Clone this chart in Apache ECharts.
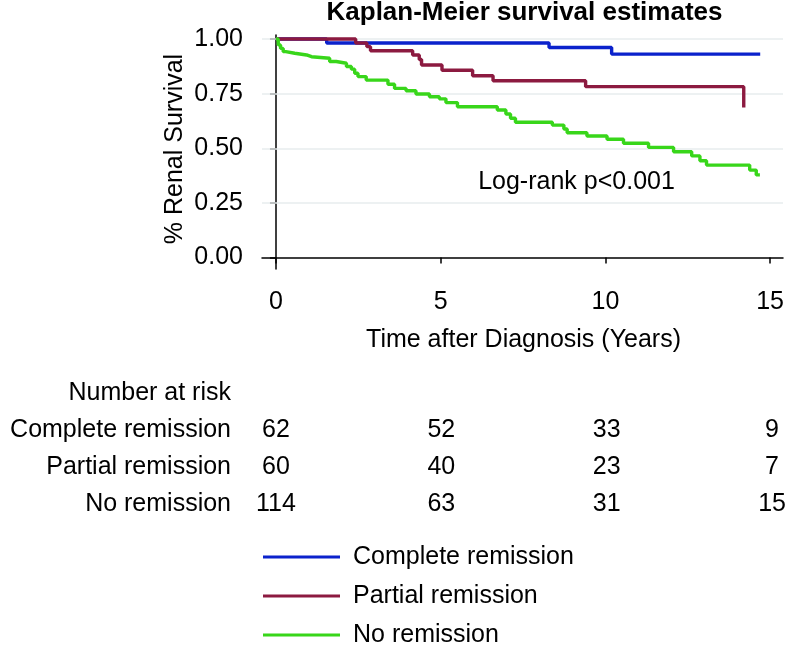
<!DOCTYPE html>
<html><head><meta charset="utf-8">
<script src="https://cdn.jsdelivr.net/npm/echarts@6/dist/echarts.min.js"></script>
<style>html,body{margin:0;padding:0;background:#fff}#c{width:787px;height:650px}</style>
</head><body><div id="c"></div>
<script>
// ---- data ----
const seriesNames = ['Complete remission', 'Partial remission', 'No remission'];
const completeCurve = [[0,1],[1.54,0.982],[8.29,0.961],[10.19,0.931],[14.7,0.931]];
const partialCurve = [[0,1],[2.42,0.982],[2.76,0.965],[2.87,0.946],[4.15,0.927],[4.35,0.906],[4.42,0.881],[5.04,0.857],[5.97,0.832],[6.59,0.809],[9.4,0.782],[14.2,0.687]];
const noneCurve = [[0,1],[0.07,0.973],[0.14,0.957],[0.22,0.942],[0.3,0.935],[0.57,0.927],[0.93,0.919],[1.08,0.912],[1.63,0.897],[1.83,0.889],[2.14,0.874],[2.29,0.862],[2.39,0.843],[2.49,0.828],[2.74,0.812],[3.40,0.793],[3.60,0.774],[3.95,0.763],[4.25,0.748],[4.66,0.736],[4.96,0.726],[5.16,0.709],[5.51,0.690],[6.72,0.675],[6.98,0.657],[7.12,0.637],[7.27,0.619],[8.39,0.606],[8.74,0.588],[8.84,0.571],[9.44,0.556],[10.05,0.541],[10.55,0.523],[11.31,0.504],[12.07,0.484],[12.62,0.465],[12.87,0.443],[13.07,0.423],[14.38,0.400],[14.58,0.378],[14.69,0.378]];
const xTicks = [0, 5, 10, 15];
const yTicks = [0, 0.25, 0.5, 0.75, 1];
const gridValues = [0.25, 0.5, 0.75, 1];
const riskTimes = [0, 5, 10, 15];
const riskHeader = 'Number at risk';
const riskComplete = [62, 52, 33, 9];
const riskPartial = [60, 40, 23, 7];
const riskNone = [114, 63, 31, 15];
const titleText = 'Kaplan-Meier survival estimates';
const xName = 'Time after Diagnosis (Years)';
const yName = '% Renal Survival';
const noteText = 'Log-rank p<0.001';

// ---- styling ----
const FONT = "'Liberation Sans', Helvetica, Arial, sans-serif";
const FS = 25;
const colors = ['#0b22cc', '#8c1a40', '#38d61a'];
const curves = [completeCurve, partialCurve, noneCurve];
const risks = [riskComplete, riskPartial, riskNone];
const rows = [riskHeader].concat(seriesNames);

const riskData = [];
seriesNames.forEach((n, i) => riskTimes.forEach((t, j) => riskData.push([t, n, risks[i][j]])));

const X_MIN = -0.4233, X_MAX = 15.392;
const chart = echarts.init(document.getElementById('c'), null, {renderer: 'canvas'});
function txt(text, x, y, font, rot) {
  const g = {type: 'text', x: x, y: y, z: 10,
    style: {text: text, font: font, fill: '#000', textAlign: 'center', textVerticalAlign: 'middle', align: 'center', verticalAlign: 'middle'}};
  if (rot) g.rotation = rot;
  return g;
}
const option = {
  animation: false,
  backgroundColor: '#fff',
  textStyle: {fontFamily: FONT},
  grid: [
    {left: 262, right: 2, top: 35, bottom: 381, containLabel: false},
    {left: 262, right: 2, top: 374, height: 149, containLabel: false}
  ],
  xAxis: [
    {type: 'value', gridIndex: 0, min: X_MIN, max: X_MAX,
     axisLine: {show: true, lineStyle: {color: '#000', width: 1.5}},
     axisTick: {show: true, length: 6, lineStyle: {color: '#000', width: 1.5}, customValues: xTicks},
     axisLabel: {show: true, margin: 21, fontSize: FS, color: '#000', fontFamily: FONT, customValues: xTicks},
     splitLine: {show: false}},
    {type: 'value', gridIndex: 1, min: X_MIN, max: X_MAX, show: false}
  ],
  yAxis: [
    {type: 'value', gridIndex: 0, min: -0.0526, max: 1.0183,
     axisLine: {show: true, lineStyle: {color: '#000', width: 1.5}},
     axisTick: {show: true, length: 6, lineStyle: {color: '#000', width: 1.5}, customValues: yTicks},
     axisLabel: {show: true, margin: 19, fontSize: FS, color: '#000', fontFamily: FONT, customValues: yTicks,
                 formatter: v => Number(v).toFixed(2)},
     splitLine: {show: false}},
    {type: 'category', gridIndex: 1, data: rows, inverse: true,
     axisLine: {show: false}, axisTick: {show: false}, splitLine: {show: false},
     axisLabel: {show: true, margin: 31, fontSize: FS, color: '#000', fontFamily: FONT}}
  ],
  legend: {
    data: seriesNames, orient: 'vertical', left: 263, top: 544, height: 106, padding: 0,
    icon: 'rect', itemWidth: 77, itemHeight: 3, itemGap: 13,
    textStyle: {fontSize: FS, color: '#000', fontFamily: FONT, lineHeight: 26, padding: [0, 0, 0, 8]},
    selectedMode: false
  },
  series: [
    {type: 'line', name: '__grid', xAxisIndex: 0, yAxisIndex: 0, data: [], z: 1, silent: true,
     markLine: {silent: true, z: 1, symbol: 'none', label: {show: false},
       lineStyle: {color: '#e7ecee', width: 1.5, type: 'solid'},
       emphasis: {disabled: true},
       data: gridValues.map(v => ({yAxis: v}))}}
  ].concat(curves.map((c, i) => ({
    type: 'line', name: seriesNames[i], xAxisIndex: 0, yAxisIndex: 0, data: c,
    step: 'end', showSymbol: false, symbol: 'none', z: 3 + i, color: colors[i],
    lineStyle: {color: colors[i], width: 3.4}, itemStyle: {color: colors[i]}
  }))).concat([
    {type: 'scatter', name: '__risk', xAxisIndex: 1, yAxisIndex: 1, data: riskData,
     symbolSize: 0.1, itemStyle: {color: '#fff', opacity: 1}, silent: true,
     label: {show: true, position: 'inside', fontSize: FS, color: '#000', opacity: 1, fontFamily: FONT,
             textBorderWidth: 0, formatter: p => String(p.value[2])}}
  ]),
  graphic: [
    txt(titleText, 524.5, 12.5, 'bold 26px ' + FONT),
    txt(xName, 523.5, 340, FS + 'px ' + FONT),
    txt(yName, 175, 149, FS + 'px ' + FONT, Math.PI / 2),
    txt(noteText, 576.5, 182, FS + 'px ' + FONT)
  ]
};
chart.setOption(option);
</script>
</body></html>
